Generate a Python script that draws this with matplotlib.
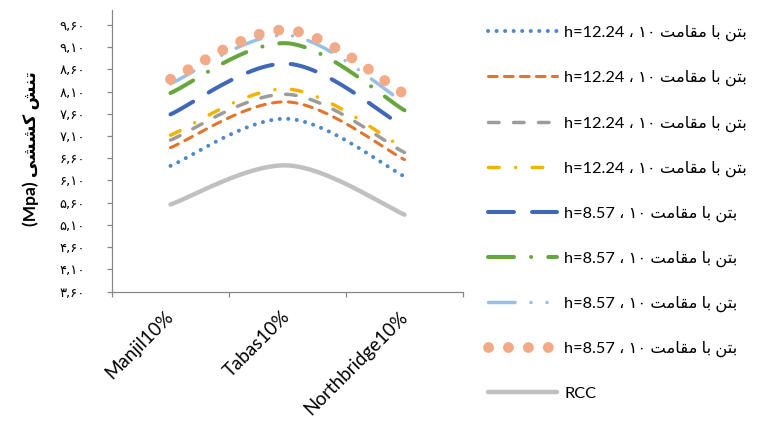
import numpy as np
import matplotlib
matplotlib.use("Agg")
import matplotlib.pyplot as plt
from matplotlib.lines import Line2D
from matplotlib.ticker import FixedLocator, FuncFormatter
from matplotlib.transforms import ScaledTranslation

plt.rcParams['font.family'] = ['Lato', 'DejaVu Sans']
plt.rcParams['lines.scale_dashes'] = False

# categories and values (Mpa)
categories = ['Manjil10%', 'Tabas10%', 'Northbridge10%']
y_ticks = [3.6, 4.1, 4.6, 5.1, 5.6, 6.1, 6.6, 7.1, 7.6, 8.1, 8.6, 9.1, 9.6]

s1_h1224 = [6.43, 7.49, 6.19]
s2_h1224 = [6.84, 7.87, 6.57]
s3_h1224 = [7.01, 8.04, 6.73]
s4_h1224 = [7.12, 8.16, 6.82]
s5_h857 = [7.59, 8.73, 7.30]
s6_h857 = [8.07, 9.19, 7.68]
s7_h857 = [8.28, 9.37, 7.85]
s8_h857 = [8.38, 9.49, 8.05]
rcc = [5.56, 6.44, 5.33]

# persian text written in visual order with presentation forms
# (matplotlib does no arabic shaping)
beton = "\uFEE6\uFE98\uFE91"
ba = "\uFE8E\uFE91"
moqavemat = "\uFE96\uFEE3\uFE8E\uFED8\uFEE3"
dah = "\u06F1\u06F0"
tanesh = "\uFEB6\uFEE8\uFE97"
keshshi = "\uFBFD\uFEB8\uFEB8\uFB90"


def fa_label(h):
    return f"h={h} \u060C {dah} {moqavemat} {ba} {beton}"


lab_a = fa_label("12.24")
lab_b = fa_label("8.57")

# dot = very short dash with round caps
D = 0.05
series = [
    (s1_h1224, lab_a, '#4F89C9', 2.9, (D, 6.1)),
    (s2_h1224, lab_a, '#E2742C', 2.2, (6.2, 5.3)),
    (s3_h1224, lab_a, '#9C9C9C', 2.5, (7.6, 10.4)),
    (s4_h1224, lab_a, '#F0B400', 2.5, (7.6, 11.9, D, 11.9)),
    (s5_h857, lab_b, '#4068B8', 2.9, (18.7, 13.0)),
    (s6_h857, lab_b, '#66A63E', 2.9, (18.7, 12.3, D, 12.3)),
    (s7_h857, lab_b, '#9ABFE4', 2.5, (19.1, 11.5, D, 11.5, D, 11.5)),
    (s8_h857, lab_b, '#F3AA86', 7.8, (D, 14.3)),
    (rcc, 'RCC', '#C0C0C0', 3.2, None),
]


def smooth(xs, ys, n=80):
    # bezier smoothing like excel's "smoothed line"
    pts = np.column_stack([xs, ys]).astype(float)
    out = []
    for i in range(len(pts) - 1):
        p0 = pts[max(i - 1, 0)]
        p1 = pts[i]
        p2 = pts[i + 1]
        p3 = pts[min(i + 2, len(pts) - 1)]
        c1 = p1 + (p2 - p0) / 6
        c2 = p2 - (p3 - p1) / 6
        t = np.linspace(0, 1, n)[:, None]
        seg = ((1 - t) ** 3) * p1 + 3 * ((1 - t) ** 2) * t * c1 \
            + 3 * (1 - t) * t ** 2 * c2 + t ** 3 * p2
        out.append(seg if i == 0 else seg[1:])
    out = np.vstack(out)
    return out[:, 0], out[:, 1]


fig = plt.figure(figsize=(7.63, 4.23), dpi=100)
ax = fig.add_axes([112 / 763, 1 - 291.5 / 423, 351 / 763, 281.5 / 423])

x = np.arange(1, len(categories) + 1)
handles = []
for vals, lab, col, lw, dash in series:
    sx, sy = smooth(x, vals)
    kw = dict(color=col, linewidth=lw, solid_capstyle='round',
              dash_capstyle='round')
    if dash is not None:
        kw['dashes'] = dash
    ax.plot(sx, sy, **kw)
    handles.append(Line2D([0], [0], label=lab, **kw))

ax.set_xlim(0.5, 3.5)
ax.set_ylim(3.6, 9.94)

for side in ['top', 'right']:
    ax.spines[side].set_visible(False)
for side in ['left', 'bottom']:
    ax.spines[side].set_color('#888888')
    ax.spines[side].set_linewidth(0.9)

fa_digits = str.maketrans('0123456789', '۰۱۲۳۴۵۶۷۸۹')
ax.yaxis.set_major_locator(FixedLocator(y_ticks))
ax.yaxis.set_major_formatter(
    FuncFormatter(lambda v, p: f"{v:.2f}".replace('.', ',').translate(fa_digits)))
ax.tick_params(axis='y', length=3.6, width=0.9, color='#888888', pad=16,
               labelsize=9.5, labelcolor='#000000')
for t in ax.get_yticklabels():
    t.set_family('DejaVu Sans')

ax.set_xticks(x)
ax.set_xticklabels(categories, rotation=45, ha='right', va='top',
                   fontsize=13.5)
ax.set_xticks([0.5, 1.5, 2.5, 3.5], minor=True)
ax.tick_params(axis='x', which='major', length=0, pad=12)
ax.tick_params(axis='x', which='minor', length=3.6, width=0.9,
               color='#888888')
shift = ScaledTranslation(6 / 100, 0, fig.dpi_scale_trans)
for t in ax.get_xticklabels():
    t.set_transform(t.get_transform() + shift)

ax.set_ylabel(f"(Mpa) {keshshi} {tanesh}", fontsize=12.5, fontweight='bold')
ax.yaxis.set_label_coords(-0.205, 0.506)

fig.legend(handles=handles, loc='upper left',
           bbox_to_anchor=(488 / 763, 1 - 25 / 423), frameon=False,
           fontsize=11.8, handlelength=4.2, handletextpad=0.45,
           labelspacing=1.76, borderpad=0, borderaxespad=0)

fig.savefig('out.png', dpi=100)
